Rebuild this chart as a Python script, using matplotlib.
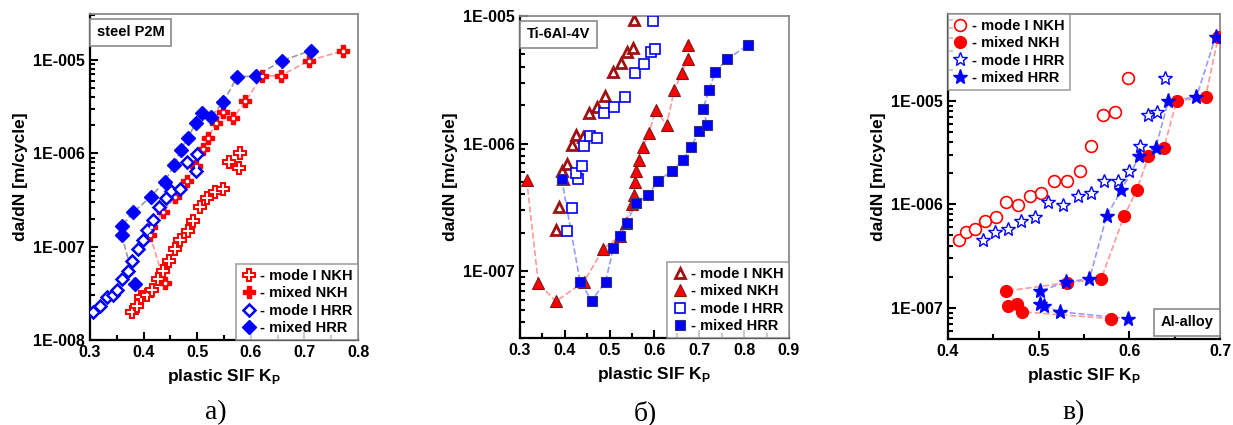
import math

import matplotlib
matplotlib.use("Agg")
import matplotlib.pyplot as plt
from matplotlib.lines import Line2D
from matplotlib.ticker import FuncFormatter, LogLocator, MultipleLocator, NullFormatter

plt.rcParams["font.family"] = ["Liberation Sans", "DejaVu Sans"]
plt.rcParams["font.weight"] = "bold"
plt.rcParams["axes.labelweight"] = "bold"
plt.rcParams["mathtext.fontset"] = "custom"
plt.rcParams["mathtext.rm"] = "Liberation Sans:bold"
plt.rcParams["mathtext.bf"] = "Liberation Sans:bold"

# ---- а) steel P2M ----
a_m1_nkh_k = [0.378, 0.387, 0.396, 0.406, 0.415, 0.426, 0.436, 0.447, 0.459, 0.468,
              0.482, 0.493, 0.505, 0.519, 0.533, 0.548, 0.560, 0.577, 0.579]
a_m1_nkh_v = [1.98e-8, 2.31e-8, 2.87e-8, 3.03e-8, 3.44e-8, 4.47e-8, 5.53e-8, 7.1e-8, 9.4e-8, 1.18e-7,
              1.48e-7, 1.9e-7, 2.64e-7, 3.3e-7, 3.88e-7, 4.12e-7, 8.1e-7, 6.9e-7, 1.0e-6]
a_mx_nkh_k = [0.439, 0.412, 0.414, 0.436, 0.459, 0.480, 0.498, 0.510, 0.521, 0.535,
              0.548, 0.567, 0.590, 0.621, 0.656, 0.709, 0.771]
a_mx_nkh_v = [4.05e-8, 1.33e-7, 1.63e-7, 2.33e-7, 3.4e-7, 5.0e-7, 7.3e-7, 1.1e-6, 1.47e-6, 2.13e-6,
              2.79e-6, 2.39e-6, 3.6e-6, 6.7e-6, 6.8e-6, 9.8e-6, 1.25e-5]
a_m1_hrr_k = [0.306, 0.319, 0.332, 0.342, 0.351, 0.360, 0.370, 0.379, 0.390, 0.398,
              0.406, 0.418, 0.429, 0.442, 0.452, 0.467, 0.480, 0.498, 0.499]
a_m1_hrr_v = [1.98e-8, 2.3e-8, 2.9e-8, 3.0e-8, 3.4e-8, 4.5e-8, 5.5e-8, 7.1e-8, 9.4e-8, 1.18e-7,
              1.5e-7, 1.93e-7, 2.64e-7, 3.3e-7, 3.9e-7, 4.1e-7, 8.0e-7, 6.5e-7, 9.8e-7]
a_mx_hrr_k = [0.384, 0.359, 0.359, 0.381, 0.413, 0.439, 0.457, 0.469, 0.482, 0.497,
              0.508, 0.525, 0.548, 0.575, 0.609, 0.658, 0.712]
a_mx_hrr_v = [4.0e-8, 1.33e-7, 1.66e-7, 2.35e-7, 3.4e-7, 4.97e-7, 7.4e-7, 1.09e-6, 1.45e-6, 2.1e-6,
              2.72e-6, 2.43e-6, 3.5e-6, 6.6e-6, 6.7e-6, 9.8e-6, 1.26e-5]

# ---- б) Ti-6Al-4V ----
b_m1_nkh_k = [0.380, 0.387, 0.396, 0.393, 0.406, 0.415, 0.426, 0.441, 0.455, 0.472,
              0.490, 0.507, 0.525, 0.538, 0.551, 0.554]
b_m1_nkh_v = [2.12e-7, 3.18e-7, 5.3e-7, 6.05e-7, 6.92e-7, 9.8e-7, 1.17e-6, 1.13e-6, 1.75e-6, 1.95e-6,
              2.37e-6, 3.66e-6, 4.31e-6, 5.26e-6, 5.58e-6, 9.3e-6]
b_mx_nkh_k = [0.315, 0.341, 0.380, 0.443, 0.486, 0.522, 0.536, 0.550, 0.554, 0.557,
              0.559, 0.566, 0.574, 0.588, 0.603, 0.627, 0.644, 0.661, 0.674, 0.675]
b_mx_nkh_v = [5.2e-7, 8.1e-8, 5.8e-8, 8.3e-8, 1.5e-7, 1.88e-7, 2.41e-7, 3.35e-7, 3.97e-7, 5.05e-7,
              6.05e-7, 7.47e-7, 9.35e-7, 1.22e-6, 1.84e-6, 1.40e-6, 2.61e-6, 3.6e-6, 4.58e-6, 5.93e-6]
b_m1_hrr_k = [0.406, 0.417, 0.429, 0.425, 0.438, 0.443, 0.457, 0.472, 0.488, 0.510,
              0.534, 0.557, 0.577, 0.592, 0.601, 0.597]
b_m1_hrr_v = [2.05e-7, 3.13e-7, 5.27e-7, 5.87e-7, 6.7e-7, 9.6e-7, 1.15e-6, 1.10e-6, 1.73e-6, 1.93e-6,
              2.34e-6, 3.6e-6, 4.2e-6, 5.2e-6, 5.52e-6, 9.2e-6]
b_mx_hrr_k = [0.393, 0.434, 0.460, 0.491, 0.508, 0.523, 0.538, 0.559, 0.586, 0.608,
              0.638, 0.664, 0.681, 0.700, 0.718, 0.708, 0.722, 0.735, 0.762, 0.809]
b_mx_hrr_v = [5.3e-7, 8.3e-8, 5.9e-8, 8.3e-8, 1.51e-7, 1.88e-7, 2.41e-7, 3.42e-7, 3.97e-7, 5.14e-7,
              6.05e-7, 7.47e-7, 9.4e-7, 1.25e-6, 1.40e-6, 1.86e-6, 2.64e-6, 3.62e-6, 4.6e-6, 5.93e-6]

# ---- в) Al-alloy ----
c_m1_nkh_k = [0.412, 0.420, 0.430, 0.441, 0.453, 0.464, 0.477, 0.490, 0.503, 0.517,
              0.531, 0.545, 0.558, 0.571, 0.584, 0.598]
c_m1_nkh_v = [4.56e-7, 5.41e-7, 5.82e-7, 6.85e-7, 7.55e-7, 1.05e-6, 9.93e-7, 1.21e-6, 1.29e-6, 1.67e-6,
              1.69e-6, 2.08e-6, 3.62e-6, 7.33e-6, 7.71e-6, 1.66e-5]
c_mx_nkh_k = [0.580, 0.482, 0.466, 0.476, 0.464, 0.531, 0.569, 0.594, 0.608, 0.621,
              0.638, 0.652, 0.684, 0.698]
c_mx_nkh_v = [7.85e-8, 9.16e-8, 1.04e-7, 1.10e-7, 1.45e-7, 1.75e-7, 1.91e-7, 7.66e-7, 1.36e-6, 2.9e-6,
              3.5e-6, 9.9e-6, 1.09e-5, 4.14e-5]
c_m1_hrr_k = [0.439, 0.452, 0.466, 0.480, 0.496, 0.510, 0.527, 0.543, 0.558, 0.572,
              0.587, 0.600, 0.612, 0.621, 0.631, 0.639]
c_m1_hrr_v = [4.5e-7, 5.41e-7, 5.82e-7, 6.85e-7, 7.55e-7, 1.05e-6, 9.93e-7, 1.21e-6, 1.29e-6, 1.67e-6,
              1.69e-6, 2.08e-6, 3.62e-6, 7.33e-6, 7.71e-6, 1.66e-5]
c_mx_hrr_k = [0.599, 0.523, 0.506, 0.501, 0.501, 0.530, 0.556, 0.575, 0.591, 0.611,
              0.629, 0.643, 0.674, 0.695]
c_mx_hrr_v = [7.85e-8, 9.16e-8, 1.04e-7, 1.10e-7, 1.45e-7, 1.77e-7, 1.91e-7, 7.78e-7, 1.36e-6, 2.9e-6,
              3.52e-6, 9.95e-6, 1.09e-5, 4.14e-5]

legend_labels = ["- mode I NKH", "- mixed NKH", "- mode I HRR", "- mixed HRR"]

RED = "#ff0000"
BLUE = "#0000ff"
PINK = "#ff9a9a"
LIGHTBLUE = "#9a9aff"
GREY_LINE = "#9a9a9a"
FRAME = "#8a8a8a"


def dec_label(v, pos):
    return "1E-%03d" % (-int(round(math.log10(v))))


def style_axes(ax, xlim, ylim, xmajor):
    ax.set_yscale("log")
    ax.set_xlim(*xlim)
    ax.set_ylim(*ylim)
    ax.xaxis.set_major_locator(MultipleLocator(xmajor))
    ax.xaxis.set_minor_locator(MultipleLocator(xmajor / 2))
    ax.yaxis.set_major_locator(LogLocator(base=10))
    ax.yaxis.set_minor_locator(LogLocator(base=10, subs=range(2, 10)))
    ax.yaxis.set_major_formatter(FuncFormatter(dec_label))
    ax.yaxis.set_minor_formatter(NullFormatter())
    ax.xaxis.set_major_formatter(FuncFormatter(lambda v, p: "%.1f" % v))
    ax.tick_params(which="both", direction="in", top=False, right=False, labelsize=11.5, width=1.5)
    ax.tick_params(which="major", length=6)
    ax.tick_params(which="minor", length=3.5)
    for s in ("left", "bottom"):
        ax.spines[s].set_color("black")
        ax.spines[s].set_linewidth(1.6)
    for s in ("top", "right"):
        ax.spines[s].set_color(FRAME)
        ax.spines[s].set_linewidth(1.3)
    ax.set_xlabel(r"plastic SIF K$_\mathbf{P}$", fontsize=12.5, fontweight="bold", labelpad=5)
    ax.set_ylabel("da/dN [m/cycle]", fontsize=12.5, fontweight="bold", labelpad=4)


def tag_box(ax, text, x, y, ha, va):
    ax.text(x, y, text, transform=ax.transAxes, ha=ha, va=va, fontsize=10.5, fontweight="bold",
            bbox=dict(boxstyle="square,pad=0.45", facecolor="white", edgecolor=FRAME, linewidth=1.2),
            zorder=6)


def add_legend(ax, handles, loc):
    leg = ax.legend(handles, legend_labels, loc=loc, fontsize=10.5, frameon=True, fancybox=False,
                    edgecolor=FRAME, borderaxespad=0, handlelength=1.0, handletextpad=0.3,
                    labelspacing=0.22, borderpad=0.35)
    leg.get_frame().set_linewidth(1.2)
    leg.set_zorder(7)


fig = plt.figure(figsize=(12.33, 4.25), dpi=100)

# а)
ax1 = fig.add_axes([0.0730, 0.2, 0.2174, 0.767])
ax1.plot(a_mx_hrr_k, a_mx_hrr_v, ls="--", color=GREY_LINE, lw=1.2, zorder=1)
ax1.plot(a_mx_nkh_k, a_mx_nkh_v, ls="--", color=PINK, lw=1.2, zorder=1)
ax1.plot(a_m1_nkh_k, a_m1_nkh_v, ls="none", marker="P", ms=8, mfc="white", mec=RED, mew=1.5, zorder=3)
ax1.plot(a_mx_nkh_k, a_mx_nkh_v, ls="none", marker="P", ms=8, mfc=RED, mec=RED, mew=1.0, zorder=3)
ax1.plot(a_mx_nkh_k, a_mx_nkh_v, ls="none", marker="o", ms=2.6, mfc="white", mec="white", mew=0, zorder=4)
ax1.plot(a_m1_hrr_k, a_m1_hrr_v, ls="none", marker="D", ms=6.5, mfc="white", mec=BLUE, mew=1.8, zorder=3)
ax1.plot(a_mx_hrr_k, a_mx_hrr_v, ls="none", marker="D", ms=7, mfc=BLUE, mec=BLUE, mew=1.0, zorder=3)
style_axes(ax1, (0.3, 0.8), (1e-8, 3.1e-5), 0.1)
tag_box(ax1, "steel P2M", 0.025, 0.965, "left", "top")
h1 = [Line2D([], [], ls="none", marker="P", ms=8, mfc="white", mec=RED, mew=1.5),
      Line2D([], [], ls="none", marker="P", ms=8, mfc=RED, mec=RED),
      Line2D([], [], ls="none", marker="D", ms=6.5, mfc="white", mec=BLUE, mew=1.8),
      Line2D([], [], ls="none", marker="D", ms=7, mfc=BLUE, mec=BLUE)]
add_legend(ax1, h1, "lower right")

# б)
ax2 = fig.add_axes([0.4217, 0.2047, 0.2182, 0.7576])
ax2.plot(b_mx_nkh_k, b_mx_nkh_v, ls="--", color=PINK, lw=1.2, zorder=1)
ax2.plot(b_mx_hrr_k, b_mx_hrr_v, ls="--", color=LIGHTBLUE, lw=1.2, zorder=1)
ax2.plot(b_m1_nkh_k, b_m1_nkh_v, ls="none", marker="^", ms=7, mfc="white", mec="#a01010", mew=2.0, zorder=3)
ax2.plot(b_m1_hrr_k, b_m1_hrr_v, ls="none", marker="s", ms=7, mfc="white", mec=BLUE, mew=1.2, zorder=3)
ax2.plot(b_mx_nkh_k, b_mx_nkh_v, ls="none", marker="^", ms=9, mfc=RED, mec="#7a1a1a", mew=0.8, zorder=3)
ax2.plot(b_mx_hrr_k, b_mx_hrr_v, ls="none", marker="s", ms=7.5, mfc=BLUE, mec="#303080", mew=0.8, zorder=4)
style_axes(ax2, (0.3, 0.9), (3.0e-8, 1e-5), 0.1)
tag_box(ax2, "Ti-6Al-4V", 0.025, 0.965, "left", "top")
h2 = [Line2D([], [], ls="none", marker="^", ms=7, mfc="white", mec="#a01010", mew=2.0),
      Line2D([], [], ls="none", marker="^", ms=9, mfc=RED, mec="#7a1a1a", mew=0.8),
      Line2D([], [], ls="none", marker="s", ms=7, mfc="white", mec=BLUE, mew=1.2),
      Line2D([], [], ls="none", marker="s", ms=7.5, mfc=BLUE, mec="#303080", mew=0.8)]
add_legend(ax2, h2, "lower right")

# в)
ax3 = fig.add_axes([0.7689, 0.2024, 0.2206, 0.7647])
ax3.plot(c_mx_nkh_k, c_mx_nkh_v, ls="--", color=PINK, lw=1.2, zorder=1)
ax3.plot(c_mx_hrr_k, c_mx_hrr_v, ls="--", color=LIGHTBLUE, lw=1.2, zorder=1)
ax3.plot(c_m1_nkh_k, c_m1_nkh_v, ls="none", marker="o", ms=8.5, mfc="white", mec=RED, mew=1.2, zorder=3)
ax3.plot(c_m1_hrr_k, c_m1_hrr_v, ls="none", marker="*", ms=10, mfc="white", mec=BLUE, mew=1.0, zorder=3)
ax3.plot(c_mx_nkh_k, c_mx_nkh_v, ls="none", marker="o", ms=8.5, mfc=RED, mec=RED, zorder=3)
ax3.plot(c_mx_hrr_k, c_mx_hrr_v, ls="none", marker="*", ms=11, mfc=BLUE, mec=BLUE, zorder=4)
style_axes(ax3, (0.4, 0.7), (5.0e-8, 6.9e-5), 0.1)
tag_box(ax3, "Al-alloy", 0.975, 0.03, "right", "bottom")
h3 = [Line2D([], [], ls="none", marker="o", ms=8.5, mfc="white", mec=RED, mew=1.2),
      Line2D([], [], ls="none", marker="o", ms=8.5, mfc=RED, mec=RED),
      Line2D([], [], ls="none", marker="*", ms=10, mfc="white", mec=BLUE, mew=1.0),
      Line2D([], [], ls="none", marker="*", ms=11, mfc=BLUE, mec=BLUE)]
add_legend(ax3, h3, "upper left")

# panel captions
for x, t in [(216, "а)"), (645, "б)"), (1074, "в)")]:
    fig.text(x / 1233, 1 - 413 / 425, t, ha="center", va="center", fontsize=20,
             family=["Liberation Serif", "DejaVu Serif"], fontweight="normal")

fig.savefig("out.png", dpi=100)
